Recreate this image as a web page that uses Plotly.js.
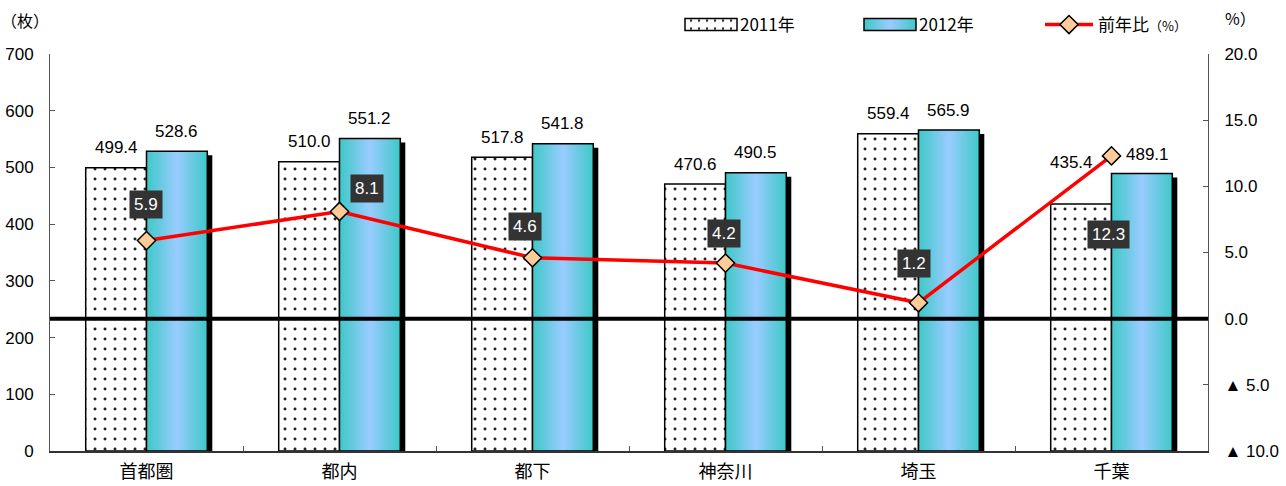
<!DOCTYPE html>
<html><head><meta charset="utf-8">
<script src="https://cdn.plot.ly/plotly-3.0.1.min.js"></script>
<style>body{margin:0;background:#fff}</style>
</head><body>
<div id="chart" style="width:1286px;height:486px"></div>
<script>
// ---- data ----
const categories = ['首都圏', '都内', '都下', '神奈川', '埼玉', '千葉'];
const values2011 = [499.4, 510.0, 517.8, 470.6, 559.4, 435.4];
const values2012 = [528.6, 551.2, 541.8, 490.5, 565.9, 489.1];
const yoyPct = [5.9, 8.1, 4.6, 4.2, 1.2, 12.3];
const leftTickVals = [0, 100, 200, 300, 400, 500, 600, 700];
const rightTickVals = [20, 15, 10, 5, 0, -5, -10];
const rightTickText = ['20.0', '15.0', '10.0', '5.0', '0.0', '▲ 5.0', '▲ 10.0'];
const seriesNames = ['2011年', '2012年', '前年比<span style="font-size:13px">（%）</span>'];

// ---- layout-only label placement (pixels) ----
const pctLabelShift = [[-1, 36], [27, 23], [-8, 31], [-2, 30], [-5, 39], [-3, -79]];
const shift2011 = [[0, 20], [0, 20], [0, 20], [0, 20], [0, 20], [-10, 42]];
const shift2012 = [[0, 20], [0, 20], [0, 20], [0, 20], [0, 20], [6, 19]];

const W = 1286, H = 486;
const margin = {l: 50, r: 78, t: 54, b: 35};
const bargap = 0.37;
const catPx = (W - margin.l - margin.r) / categories.length;
const barPx = catPx * (1 - bargap) / 2;

const FONT = 'Liberation Sans, Arial, "Noto Sans CJK JP", sans-serif';
const JFONT = '"Noto Sans CJK JP", "Liberation Sans", sans-serif';

const data = [
  {
    type: 'bar', name: seriesNames[0], x: categories, y: values2011,
    marker: {color: '#ffffff', line: {color: '#000', width: 1.5},
      pattern: {shape: '.', fgcolor: '#222', bgcolor: '#fff', size: 10, solidity: 0.07}},
    yaxis: 'y'
  },
  {
    type: 'bar', name: seriesNames[1], x: categories, y: values2012,
    marker: {color: '#7fd3e6', line: {color: '#000', width: 1.5}},
    yaxis: 'y'
  },
  {
    type: 'scatter', mode: 'lines+markers', name: seriesNames[2], x: categories, y: yoyPct,
    yaxis: 'y2',
    line: {color: '#ff0000', width: 3.5},
    marker: {symbol: 'diamond', size: 14, color: '#ffcc99', line: {color: '#000', width: 1.5}}
  }
];

const annotations = [];
categories.forEach((c, i) => {
  annotations.push({x: c, y: values2011[i], xref: 'x', yref: 'y', text: values2011[i].toFixed(1),
    showarrow: false, xanchor: 'center', xshift: -barPx / 2 + shift2011[i][0], yshift: shift2011[i][1],
    font: {family: FONT, size: 17, color: '#000'}});
  annotations.push({x: c, y: values2012[i], xref: 'x', yref: 'y', text: values2012[i].toFixed(1),
    showarrow: false, xanchor: 'center', xshift: barPx / 2 + shift2012[i][0], yshift: shift2012[i][1],
    font: {family: FONT, size: 17, color: '#000'}});
  annotations.push({x: c, y: yoyPct[i], xref: 'x', yref: 'y2', text: yoyPct[i].toFixed(1),
    showarrow: false, xanchor: 'center', xshift: pctLabelShift[i][0], yshift: pctLabelShift[i][1],
    bgcolor: '#333333', borderpad: 4, font: {family: FONT, size: 17, color: '#ffffff'}});
});
const pw = W - margin.l - margin.r, ph = H - margin.t - margin.b;
annotations.push({xref: 'paper', yref: 'paper', x: (25 - margin.l) / pw, y: (H - margin.b - 20) / ph,
  xanchor: 'center', yanchor: 'middle', text: '（枚）', showarrow: false,
  font: {family: JFONT, size: 16, color: '#000'}});
annotations.push({xref: 'paper', yref: 'paper', x: (1240 - margin.l) / pw, y: (H - margin.b - 18) / ph,
  xanchor: 'center', yanchor: 'middle', text: '%）', showarrow: false,
  font: {family: JFONT, size: 16, color: '#000'}});

const layout = {
  width: W, height: H, margin: margin,
  paper_bgcolor: '#fff', plot_bgcolor: '#fff',
  barmode: 'group', bargap: bargap, bargroupgap: 0,
  hovermode: false,
  font: {family: FONT, size: 17, color: '#000'},
  xaxis: {type: 'category', tickson: 'boundaries', ticks: 'inside', ticklen: 5, tickcolor: '#555',
    showline: true, linecolor: '#333', linewidth: 1.5, showgrid: false,
    tickfont: {family: JFONT, size: 18, color: '#000'}, ticklabelstandoff: 4},
  yaxis: {range: [0, 700], tickvals: leftTickVals, ticks: 'inside', ticklen: 5, tickcolor: '#555',
    showline: true, linecolor: '#555', linewidth: 1, showgrid: false, zeroline: false,
    tickfont: {family: FONT, size: 17}, ticklabelstandoff: 12},
  yaxis2: {range: [-10, 20], overlaying: 'y', side: 'right', tickvals: rightTickVals, ticktext: rightTickText,
    ticks: 'inside', ticklen: 5, tickcolor: '#555', showline: true, linecolor: '#555', linewidth: 1,
    showgrid: false, zeroline: false, tickfont: {family: FONT, size: 17}, ticklabelstandoff: 12},
  shapes: [{type: 'line', xref: 'paper', yref: 'y2', x0: 0, x1: 1, y0: 0, y1: 0,
    line: {color: '#000', width: 4}, layer: 'above'}],
  annotations: annotations,
  showlegend: true,
  legend: {orientation: 'h', xref: 'container', yref: 'container', x: 682 / W, y: 1 - 25 / H,
    xanchor: 'left', yanchor: 'middle', itemwidth: 48, entrywidth: 116, entrywidthmode: 'pixels',
    font: {family: JFONT, size: 17, color: '#000'}, bgcolor: 'rgba(0,0,0,0)', traceorder: 'normal'}
};

Plotly.newPlot('chart', data, layout, {staticPlot: true}).then(gd => {
  const NS = 'http://www.w3.org/2000/svg';
  const svg = gd.querySelector('.main-svg');
  let defs = svg.querySelector('defs');
  if (!defs) { defs = document.createElementNS(NS, 'defs'); svg.insertBefore(defs, svg.firstChild); }
  const lg = document.createElementNS(NS, 'linearGradient');
  lg.setAttribute('id', 'grad2012');
  lg.setAttribute('x1', '0'); lg.setAttribute('y1', '0'); lg.setAttribute('x2', '1'); lg.setAttribute('y2', '0');
  [['0%', '#3ec8c8'], ['50%', '#99ccff'], ['100%', '#3ec8c8']].forEach(([o, c]) => {
    const s = document.createElementNS(NS, 'stop');
    s.setAttribute('offset', o); s.setAttribute('stop-color', c); lg.appendChild(s);
  });
  defs.appendChild(lg);

  const traces = gd.querySelectorAll('.barlayer .trace');
  if (traces[1]) {
    traces[1].querySelectorAll('.point path').forEach(p => {
      const sh = p.cloneNode();
      sh.style.fill = '#000'; sh.style.stroke = 'none';
      sh.setAttribute('transform', 'translate(5,4)');
      p.parentNode.insertBefore(sh, p);
      p.style.fill = 'url(#grad2012)';
    });
  }
  const legTraces = gd.querySelectorAll('.legend .traces');
  legTraces.forEach((t, i) => {
    if (i < 2) {
      t.querySelectorAll('.legendpoints path').forEach(p => {
        p.setAttribute('d', 'M26,6H-26V-6H26Z');
        if (i === 1) p.style.fill = 'url(#grad2012)';
      });
    }
  });
});
</script>
</body></html>
